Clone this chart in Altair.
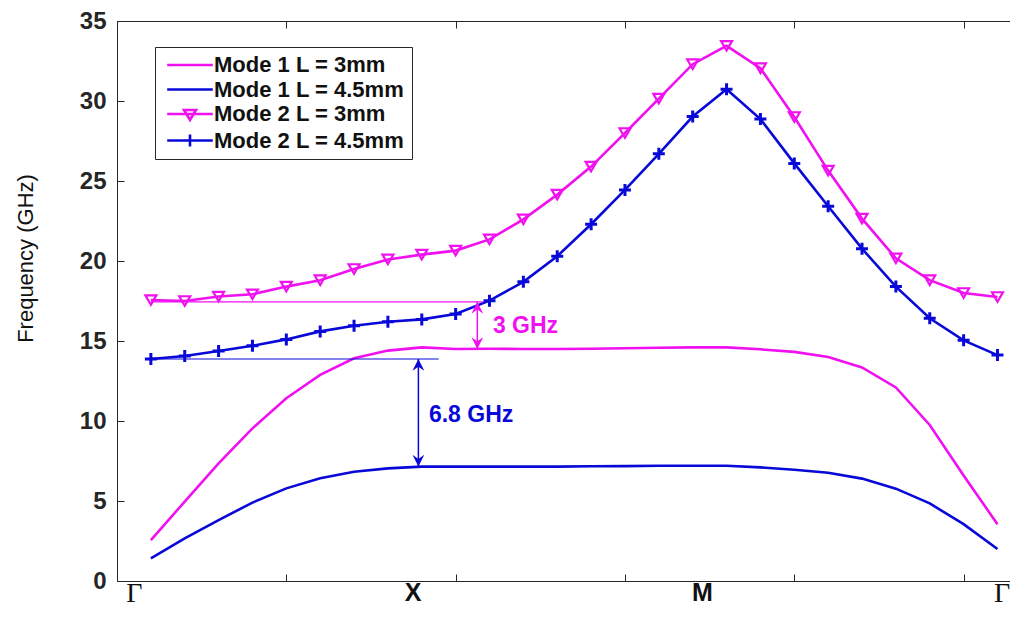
import altair as alt
import pandas as pd

# ---------------- data ----------------
k = list(range(26))  # position along the Γ-X-M-Γ path (sample index)

mode1_3 = [2.56, 4.96, 7.35, 9.54, 11.42, 12.88, 13.92, 14.4, 14.6, 14.5,
           14.52, 14.5, 14.5, 14.52, 14.55, 14.58, 14.6, 14.6, 14.48, 14.32,
           14.0, 13.35, 12.1, 9.75, 6.6, 3.55]
mode1_45 = [1.42, 2.67, 3.81, 4.9, 5.79, 6.42, 6.83, 7.04, 7.15, 7.15,
            7.15, 7.15, 7.15, 7.17, 7.18, 7.2, 7.2, 7.2, 7.1, 6.95,
            6.77, 6.4, 5.77, 4.85, 3.55, 2.0]
mode2_3 = [17.56, 17.5, 17.78, 17.92, 18.4, 18.8, 19.5, 20.1, 20.4, 20.65,
           21.35, 22.6, 24.15, 25.9, 28.0, 30.15, 32.3, 33.45, 32.05, 29.0,
           25.65, 22.65, 20.17, 18.8, 18.0, 17.75]
mode2_45 = [13.875, 14.06, 14.375, 14.7, 15.1, 15.6, 15.95, 16.2, 16.35, 16.69,
            17.52, 18.7, 20.3, 22.3, 24.44, 26.7, 29.03, 30.74, 28.87, 26.1,
            23.42, 20.77, 18.4, 16.42, 15.04, 14.12]

series_names = ["Mode 1 L = 3mm", "Mode 1 L = 4.5mm", "Mode 2 L = 3mm", "Mode 2 L = 4.5mm"]
MAGENTA = "#F010F0"
BLUE = "#0808D8"
series_colors = [MAGENTA, BLUE, MAGENTA, BLUE]

x_tick_values = [-1, 4, 9, 14, 19, 24]
y_tick_values = [0, 5, 10, 15, 20, 25, 30, 35]
sym_labels = ["Γ", "Γ"]
sym_pos = [-0.49, 25.14]
pt_labels = ["X", "M"]
pt_pos = [7.74, 16.29]

# annotations (gap markers)
ann_colors = [MAGENTA, BLUE]
hline_y = [17.45, 13.875]
hline_x0 = [0.0, 0.0]
hline_x1 = [9.8, 8.5]
arrow_x = [9.64, 7.9]
arrow_top = [17.45, 13.875]
arrow_bottom = [14.5, 7.15]
ann_text = ["3 GHz", "6.8 GHz"]
ann_x = [10.1, 8.21]
ann_y = [15.94, 10.4]

# ---------------- tables ----------------
rows = []
for name, col, vals in zip(series_names, series_colors, [mode1_3, mode1_45, mode2_3, mode2_45]):
    for kk, v in zip(k, vals):
        rows.append({"k": kk, "f": v, "series": name, "col": col})
df = pd.DataFrame(rows)
df_m23 = df[df.series == "Mode 2 L = 3mm"]
df_m245 = df[df.series == "Mode 2 L = 4.5mm"]

ann = pd.DataFrame({"c": ann_colors, "hy": hline_y, "hx0": hline_x0, "hx1": hline_x1,
                    "ax": arrow_x, "at": arrow_top, "ab": arrow_bottom,
                    "txt": ann_text, "tx": ann_x, "ty": ann_y})
sym_df = pd.DataFrame({"lab": sym_labels, "pos": sym_pos})
pt_df = pd.DataFrame({"lab": pt_labels, "pos": pt_pos})

W, H = 893, 560
AX = "#262626"
FONT = "Liberation Sans"

xs = alt.Scale(domain=[-1, 25.37], nice=False, zero=False)
ys = alt.Scale(domain=[0, 35], nice=False, zero=False)
cs = alt.Scale(domain=series_names, range=series_colors)

common = dict(grid=False, domainColor=AX, tickColor=AX, domainWidth=1, tickWidth=1, tickSize=7)
# bottom frame line with ticks pointing up (a top-oriented axis moved to the bottom)
bottom_axis = alt.Axis(orient="top", offset=-H, values=x_tick_values, labels=False,
                       title=None, **common)
# top frame line with ticks pointing down
top_axis = alt.Axis(orient="bottom", offset=-H, values=x_tick_values, labels=False,
                    title=None, **common)
# left frame line with ticks pointing right
left_tick_axis = alt.Axis(orient="right", offset=-W, values=y_tick_values, labels=False,
                          title=None, **common)
# left labels + title
left_label_axis = alt.Axis(orient="left", values=y_tick_values, title="Frequency (GHz)",
                           ticks=False, domain=False, grid=False,
                           labelFont=FONT, labelFontSize=24, labelFontWeight="bold",
                           labelColor=AX, labelPadding=11,
                           titleFont=FONT, titleFontSize=22, titleFontWeight="normal",
                           titleColor="#111111", titleX=-92, titleY=237,
                           titleAlign="center", titleBaseline="middle")

lines = alt.Chart(df).mark_line(strokeWidth=2.6).encode(
    x=alt.X("k:Q", scale=xs, axis=bottom_axis),
    y=alt.Y("f:Q", scale=ys, axis=left_label_axis),
    color=alt.Color("col:N", scale=None),
    detail="series:N",
)

tri = alt.Chart(df_m23).mark_point(shape="triangle-down", filled=False, strokeWidth=2.2,
                                   size=120, color=MAGENTA, opacity=1).encode(
    x=alt.X("k:Q", scale=xs, axis=None),
    y=alt.Y("f:Q", scale=ys, axis=left_tick_axis))

plus = alt.Chart(df_m245).mark_point(shape="M-1,0H1M0,-1V1", filled=False, strokeWidth=3,
                                     size=144, color=BLUE, opacity=1).encode(
    x=alt.X("k:Q", scale=xs, axis=None), y=alt.Y("f:Q", scale=ys, axis=None))

hl = alt.Chart(ann).mark_rule(strokeWidth=1.2).encode(
    x=alt.X("hx0:Q", scale=xs, axis=None), x2="hx1:Q",
    y=alt.Y("hy:Q", scale=ys, axis=None),
    color=alt.Color("c:N", scale=None))

shaft = alt.Chart(ann).mark_rule(strokeWidth=1.5).encode(
    x=alt.X("ax:Q", scale=xs, axis=None),
    y=alt.Y("at:Q", scale=ys, axis=None), y2="ab:Q",
    color=alt.Color("c:N", scale=None))

head_up = alt.Chart(ann).mark_point(shape="M0,0L1,2L0,1.3L-1,2Z", filled=True, size=140,
                                    opacity=1).encode(
    x=alt.X("ax:Q", scale=xs, axis=None), y=alt.Y("at:Q", scale=ys, axis=None),
    color=alt.Color("c:N", scale=None))

head_down = alt.Chart(ann).mark_point(shape="M0,0L1,-2L0,-1.3L-1,-2Z", filled=True, size=140,
                                      opacity=1).encode(
    x=alt.X("ax:Q", scale=xs, axis=None), y=alt.Y("ab:Q", scale=ys, axis=None),
    color=alt.Color("c:N", scale=None))

ann_txt = alt.Chart(ann).mark_text(align="left", baseline="middle", font=FONT,
                                   fontSize=23, fontWeight="bold").encode(
    x=alt.X("tx:Q", scale=xs, axis=None), y=alt.Y("ty:Q", scale=ys, axis=None),
    text="txt:N", color=alt.Color("c:N", scale=None))

gam = alt.Chart(sym_df).mark_text(align="center", baseline="alphabetic",
                                  font="Liberation Serif", fontSize=28, color="#111111").encode(
    x=alt.X("pos:Q", scale=xs, axis=None), y=alt.value(H + 21), text="lab:N")

pts = alt.Chart(pt_df).mark_text(align="center", baseline="alphabetic",
                                 font=FONT, fontSize=25, fontWeight="bold", color="#111111").encode(
    x=alt.X("pos:Q", scale=xs, axis=None), y=alt.value(H + 20), text="lab:N")

legend_paths = [
    "M-1.16,0H7.96",
    "M-1.16,0H7.96",
    "M-1.16,0H7.96M2.2,-0.8H4.6L3.4,1.2Z",
    "M-1.16,0H7.96M3.4,-1.2V1.2M2.2,0H4.6",
]
leg = alt.Legend(orient="none", legendX=38, legendY=26, title=None,
                 labelFont=FONT, labelFontSize=22, labelFontWeight="bold", labelColor="#111111",
                 symbolSize=100, symbolStrokeWidth=2.6, symbolOpacity=1,
                 labelOffset=30, padding=7, rowPadding=2.5,
                 strokeColor=AX, fillColor="white", labelLimit=400)

legend_layer = alt.Chart(df).mark_point(filled=False, size=0).encode(
    x=alt.X("k:Q", scale=xs, axis=top_axis),
    y=alt.Y("f:Q", scale=ys, axis=None),
    color=alt.Color("series:N", scale=cs, legend=leg),
    shape=alt.Shape("series:N", scale=alt.Scale(domain=series_names, range=legend_paths), legend=leg),
)

chart = alt.layer(lines, tri, plus, hl, shaft, head_up, head_down, ann_txt, gam, pts,
                  legend_layer).properties(
    width=W, height=H,
    padding={"left": 109, "top": 13, "right": 0, "bottom": 28},
    autosize=alt.AutoSizeParams(type="none"),
    background="white",
).configure_view(stroke=None)

chart.save("out.html", embed_options={"renderer": "svg", "actions": False})
